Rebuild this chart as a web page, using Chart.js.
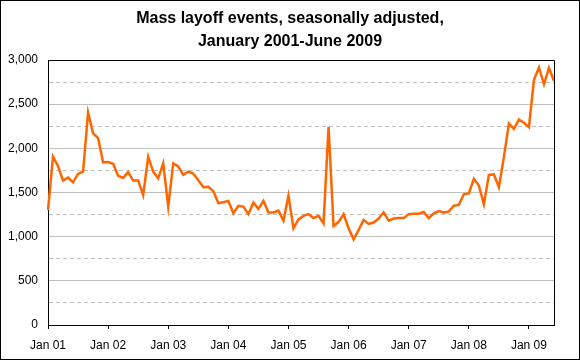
<!DOCTYPE html>
<html>
<head>
<meta charset="utf-8">
<script src="https://cdn.jsdelivr.net/npm/chart.js@4/dist/chart.umd.min.js"></script>
<style>
    html, body { margin: 0; padding: 0; background: #fff; }
</style>
</head>
<body>
<canvas id="layoffChart" width="580" height="360"></canvas>
<script>
const titleLines = ['Mass layoff events, seasonally adjusted,', 'January 2001-June 2009'];
const monthNames = ['Jan', 'Feb', 'Mar', 'Apr', 'May', 'Jun', 'Jul', 'Aug', 'Sep', 'Oct', 'Nov', 'Dec'];
const years = ['01', '02', '03', '04', '05', '06', '07', '08', '09'];
const tickLabels = ['Jan 01', 'Jan 02', 'Jan 03', 'Jan 04', 'Jan 05', 'Jan 06', 'Jan 07', 'Jan 08', 'Jan 09'];

// monthly mass layoff events
const events2001 = [1300, 1905, 1800, 1635, 1670, 1615, 1710, 1735, 2405, 2170, 2115, 1840];
const events2002 = [1845, 1825, 1690, 1665, 1730, 1635, 1635, 1470, 1905, 1735, 1660, 1830];
const events2003 = [1340, 1830, 1795, 1700, 1735, 1715, 1640, 1560, 1565, 1515, 1380, 1390];
const events2004 = [1405, 1265, 1350, 1340, 1255, 1385, 1315, 1405, 1275, 1275, 1295, 1180];
const events2005 = [1465, 1095, 1195, 1235, 1255, 1210, 1235, 1150, 2245, 1120, 1165, 1255];
const events2006 = [1095, 970, 1075, 1190, 1145, 1160, 1205, 1275, 1180, 1205, 1210, 1210];
const events2007 = [1255, 1260, 1260, 1280, 1210, 1265, 1290, 1275, 1285, 1350, 1360, 1480];
const events2008 = [1490, 1655, 1580, 1365, 1700, 1705, 1560, 1900, 2280, 2220, 2325, 2290];
const events2009 = [2240, 2775, 2915, 2725, 2910, 2765];

const yMax = 3000;
const yStep = 250;

const events = [].concat(events2001, events2002, events2003, events2004, events2005,
    events2006, events2007, events2008, events2009);

const months = [];
years.forEach(y => monthNames.forEach(m => months.push(m + ' ' + y)));
months.length = events.length;

const FONT = "'Liberation Sans', Arial, sans-serif";

// title, plot frame and outer border
const framePlugin = {
    id: 'framePlugin',
    afterDraw(chart) {
        const { ctx, chartArea: a } = chart;
        ctx.save();
        ctx.strokeStyle = '#000';
        ctx.lineWidth = 1;
        ctx.beginPath();
        ctx.moveTo(Math.round(a.left), Math.round(a.top) + 0.5);
        ctx.lineTo(Math.round(a.right) + 0.5, Math.round(a.top) + 0.5);
        ctx.lineTo(Math.round(a.right) + 0.5, Math.round(a.bottom) + 0.5);
        ctx.stroke();
        ctx.strokeRect(0.5, 0.5, chart.width - 1, chart.height - 1);

        ctx.fillStyle = '#000';
        ctx.font = 'bold 16px ' + FONT;
        ctx.textAlign = 'center';
        ctx.textBaseline = 'middle';
        ctx.fillText(titleLines[0], chart.width / 2, 19);
        ctx.fillText(titleLines[1], chart.width / 2, 42);
        ctx.restore();
    }
};

new Chart(document.getElementById('layoffChart'), {
    type: 'line',
    data: {
        labels: months,
        datasets: [{
            label: 'Mass layoff events',
            data: events,
            borderColor: '#ff6600',
            borderWidth: 2.5,
            pointRadius: 0,
            tension: 0,
            fill: false,
        }],
    },
    options: {
        responsive: false,
        animation: false,
        layout: { padding: { top: 60, right: 26, bottom: 0, left: 0 } },
        plugins: {
            legend: { display: false },
            tooltip: { enabled: false },
            title: { display: false },
        },
        scales: {
            x: {
                afterFit: s => { s.height = 35; },
                border: { color: '#000', width: 1 },
                grid: {
                    drawOnChartArea: false,
                    tickLength: 4,
                    color: c => (c.index % 12 === 0 ? '#000' : 'rgba(0,0,0,0)'),
                },
                ticks: {
                    autoSkip: false,
                    maxRotation: 0,
                    padding: 9,
                    color: '#000',
                    font: { family: FONT, size: 12 },
                    callback: (v, i) => (i % 12 === 0 ? tickLabels[i / 12] : ''),
                },
            },
            y: {
                min: 0,
                max: yMax,
                afterFit: s => { s.width = 48; },
                border: {
                    color: '#000',
                    width: 1,
                    dash: c => (c.tick && c.tick.value % 500 !== 0 ? [4, 3] : []),
                },
                grid: {
                    drawTicks: false,
                    color: c => {
                        if (!c.tick || c.tick.value === 0 || c.tick.value === yMax) return 'rgba(0,0,0,0)';
                        return '#c0c0c0';
                    },
                },
                ticks: {
                    stepSize: yStep,
                    padding: 10,
                    color: '#000',
                    font: { family: FONT, size: 12 },
                    callback: v => (v % 500 === 0 ? v.toLocaleString('en-US') : ''),
                },
            },
        },
    },
    plugins: [framePlugin],
});
</script>
</body>
</html>
